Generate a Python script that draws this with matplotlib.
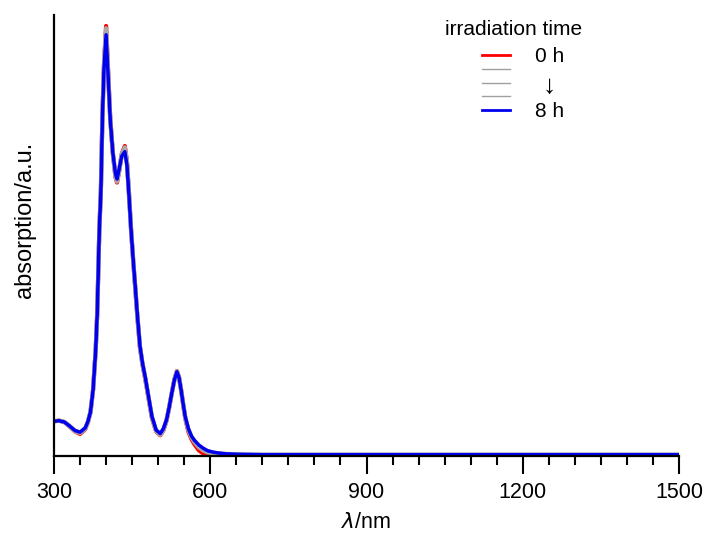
import matplotlib
matplotlib.use("Agg")
import matplotlib.pyplot as plt
from matplotlib.ticker import MultipleLocator

plt.rcParams['font.family'] = ['Liberation Sans', 'DejaVu Sans']

# wavelength grid (nm)
wl = [300, 310, 320, 330, 340, 350, 360,
      365, 370, 375, 380, 383, 387, 390, 393, 396,
      400, 404, 408, 413, 418, 421, 425, 430,
      436, 440, 444, 448, 452, 456, 460, 465, 470, 475,
      480, 488, 496, 504, 510, 516, 521, 526, 531, 536,
      540, 544, 548, 552, 558, 564, 570, 578,
      586, 595, 605, 615, 630, 650, 700, 800, 1000, 1200, 1500]

abs_0h = [0.079, 0.080, 0.077, 0.067, 0.056, 0.050, 0.061,
          0.076, 0.099, 0.150, 0.240, 0.324, 0.512, 0.605, 0.775, 0.890,
          0.975, 0.870, 0.765, 0.685, 0.632, 0.620, 0.645, 0.685,
          0.703, 0.668, 0.595, 0.512, 0.443, 0.380, 0.316, 0.246, 0.206, 0.176,
          0.141, 0.086, 0.056, 0.047, 0.058, 0.080, 0.109, 0.142, 0.173, 0.193,
          0.179, 0.150, 0.116, 0.085, 0.055, 0.038, 0.026, 0.013,
          0.006, 0.002, 0.001, 0.000, 0.000, 0.000, 0.000, 0.000, 0.000, 0.000, 0.000]

abs_2h = [0.079, 0.080, 0.077, 0.067, 0.057, 0.052, 0.062,
          0.077, 0.099, 0.150, 0.240, 0.324, 0.512, 0.603, 0.773, 0.887,
          0.970, 0.867, 0.764, 0.686, 0.634, 0.622, 0.646, 0.684,
          0.700, 0.666, 0.594, 0.512, 0.444, 0.381, 0.317, 0.247, 0.207, 0.177,
          0.142, 0.087, 0.057, 0.048, 0.059, 0.081, 0.109, 0.142, 0.172, 0.192,
          0.178, 0.150, 0.117, 0.087, 0.059, 0.042, 0.031, 0.020,
          0.013, 0.008, 0.006, 0.004, 0.003, 0.002, 0.002, 0.002, 0.002, 0.002, 0.002]

abs_4h = [0.079, 0.080, 0.077, 0.068, 0.057, 0.053, 0.063,
          0.077, 0.100, 0.150, 0.240, 0.324, 0.512, 0.602, 0.772, 0.884,
          0.965, 0.865, 0.763, 0.686, 0.636, 0.624, 0.647, 0.683,
          0.697, 0.664, 0.592, 0.512, 0.444, 0.382, 0.318, 0.248, 0.208, 0.178,
          0.143, 0.088, 0.058, 0.049, 0.060, 0.081, 0.110, 0.142, 0.172, 0.192,
          0.178, 0.150, 0.117, 0.088, 0.060, 0.043, 0.033, 0.022,
          0.015, 0.010, 0.007, 0.005, 0.004, 0.003, 0.003, 0.003, 0.003, 0.003, 0.003]

abs_6h = [0.079, 0.080, 0.077, 0.068, 0.058, 0.053, 0.063,
          0.078, 0.100, 0.150, 0.240, 0.324, 0.512, 0.601, 0.771, 0.882,
          0.960, 0.862, 0.762, 0.687, 0.638, 0.626, 0.649, 0.681,
          0.693, 0.662, 0.591, 0.512, 0.445, 0.383, 0.319, 0.249, 0.209, 0.179,
          0.144, 0.089, 0.058, 0.050, 0.061, 0.082, 0.110, 0.142, 0.172, 0.191,
          0.178, 0.150, 0.118, 0.088, 0.061, 0.044, 0.034, 0.024,
          0.017, 0.011, 0.008, 0.006, 0.005, 0.004, 0.003, 0.003, 0.003, 0.003, 0.003]

abs_8h = [0.079, 0.080, 0.077, 0.068, 0.058, 0.054, 0.064,
          0.078, 0.100, 0.150, 0.240, 0.324, 0.512, 0.600, 0.770, 0.880,
          0.955, 0.860, 0.762, 0.687, 0.640, 0.628, 0.650, 0.680,
          0.690, 0.660, 0.590, 0.512, 0.445, 0.384, 0.320, 0.250, 0.210, 0.180,
          0.145, 0.090, 0.059, 0.051, 0.062, 0.082, 0.110, 0.142, 0.172, 0.191,
          0.178, 0.150, 0.118, 0.089, 0.062, 0.045, 0.035, 0.025,
          0.018, 0.012, 0.009, 0.007, 0.005, 0.004, 0.003, 0.003, 0.003, 0.003, 0.003]

x_ticks = [300, 600, 900, 1200, 1500]

fig = plt.figure(figsize=(7.07, 5.34), dpi=100)
ax = fig.add_axes([0.0764, 0.146, 0.884, 0.826])

ax.plot(wl, abs_0h, color='red', lw=3.0, solid_joinstyle='round')
for s in (abs_2h, abs_4h, abs_6h):
    ax.plot(wl, s, color='#a8a8a8', lw=3.0, solid_joinstyle='round')
ax.plot(wl, abs_8h, color='#0000ee', lw=2.5, solid_joinstyle='round')

ax.set_xlim(300, 1500)
ax.set_ylim(0, 1.0)
ax.set_xticks(x_ticks)
ax.xaxis.set_minor_locator(MultipleLocator(50))
ax.set_yticks([])
ax.tick_params(axis='x', which='major', length=13, width=1.5, direction='out',
               labelsize=15.5, pad=6)
ax.tick_params(axis='x', which='minor', length=6.5, width=1.5, direction='out')
for sp in ('top', 'right'):
    ax.spines[sp].set_visible(False)
for sp in ('left', 'bottom'):
    ax.spines[sp].set_linewidth(1.6)

ax.set_xlabel(r'$\it{\lambda}$/nm', fontsize=15.5, labelpad=6)
ax.set_ylabel('absorption/a.u.', fontsize=17)
ax.yaxis.set_label_coords(-0.029, 0.535)

# hand-drawn legend
tr = ax.transAxes
ax.text(0.736, 0.966, 'irradiation time', transform=tr, fontsize=15,
        ha='center', va='center')
rows = [0.909, 0.877, 0.846, 0.816, 0.785]
cols = ['red', '#a0a0a0', '#a0a0a0', '#a0a0a0', '#0000ee']
widths = [2.0, 1.0, 1.0, 1.0, 2.0]
for yy, c, w in zip(rows, cols, widths):
    ax.plot([0.685, 0.730], [yy, yy], color=c, lw=w, transform=tr, clip_on=False)
ax.text(0.770, 0.906, '0 h', transform=tr, fontsize=15, ha='left', va='center')
ax.text(0.770, 0.782, '8 h', transform=tr, fontsize=15, ha='left', va='center')
ax.text(0.793, 0.838, '\u2193', transform=tr, fontsize=19, ha='center',
        va='center')

fig.savefig('out.png', dpi=100)
